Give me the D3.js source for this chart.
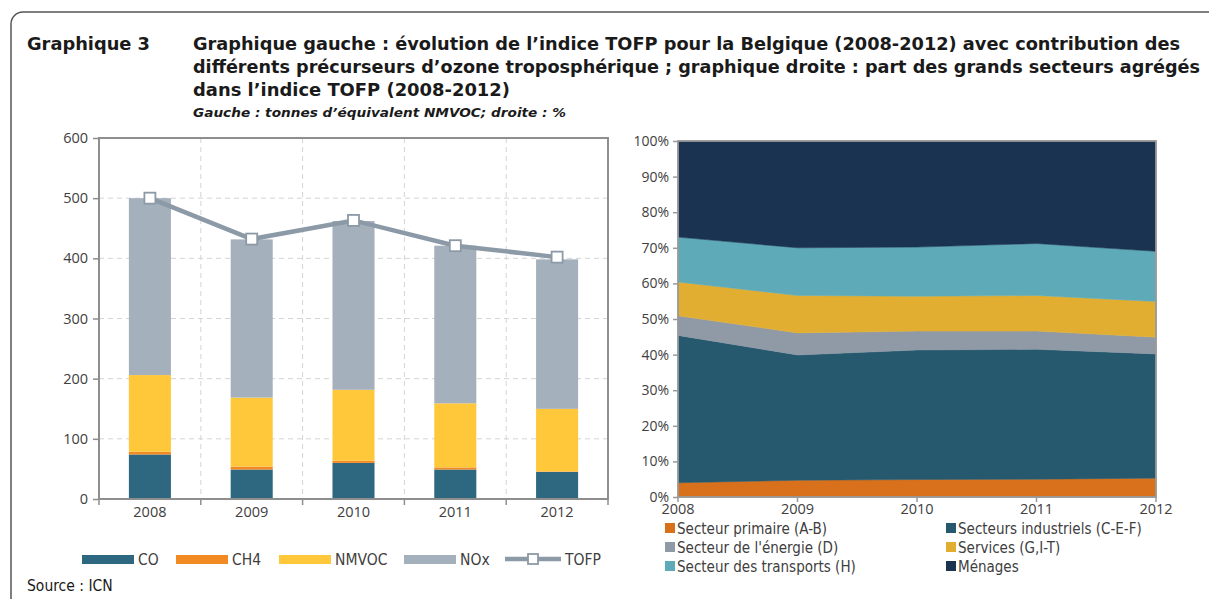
<!DOCTYPE html>
<html><head><meta charset="utf-8">
<script src="https://cdn.jsdelivr.net/npm/d3@7"></script>
<style>
html,body{margin:0;padding:0;background:#fff;}
svg{display:block;}
</style></head>
<body>
<svg id="c" width="1209" height="599"></svg>
<script>
// ---------- DATA ----------
const years = ["2008","2009","2010","2011","2012"];
// left chart: tonnes d'équivalent NMVOC
const co    = [74, 49, 60, 49, 45];
const ch4   = [4.5, 5, 3.5, 3.5, 0.8];
const nmvoc = [127.5, 114.5, 118, 106.5, 104];
const nox   = [294, 263, 280.5, 262, 248.5];
const tofp  = [500, 432, 463, 421, 402];
const leftTicks = [0,100,200,300,400,500,600];
const leftSeriesNames = ["CO","CH4","NMVOC","NOx"];
// right chart: % shares
const primaire    = [4.0, 4.7, 4.9, 5.0, 5.3];
const industriels = [41.4, 35.2, 36.4, 36.5, 34.9];
const energie     = [5.5, 6.2, 5.3, 5.1, 4.7];
const services    = [9.5, 10.5, 9.8, 10.0, 10.0];
const transports  = [12.6, 13.4, 13.8, 14.6, 14.1];
const menages     = [27.0, 30.0, 29.8, 28.8, 31.0];
const rightTicks = [0,10,20,30,40,50,60,70,80,90,100];
const rightSeriesNames = ["Secteur primaire (A-B)","Secteurs industriels (C-E-F)","Secteur de l'énergie (D)","Services (G,I-T)","Secteur des transports (H)","Ménages"];

// ---------- STYLE ----------
const leftColors = ["#2d6880","#f28a24","#ffc73a","#a5b0bd"];
const tofpColor = "#8c99a6";
const rightColors = ["#d9711c","#27596e","#8f9aa6","#e2ae32","#5eaab8","#1a3350"];
const titleFont = "'DejaVu Sans Condensed','DejaVu Sans',sans-serif";
const axisFont = "'Open Sans','Noto Sans',sans-serif";
const txtCol = "#404040";

const svg = d3.select("#c");

// outer frame
svg.append("rect").attr("x",11).attr("y",12).attr("width",1260).attr("height",620)
  .attr("rx",12).attr("fill","none").attr("stroke","#555").attr("stroke-width",1.5);

// titles
function tline(txt,x,y,size,w,style){
  const t = svg.append("text").attr("x",x).attr("y",y).text(txt)
    .attr("font-family",titleFont).attr("font-size",size).attr("font-weight","bold")
    .attr("fill","#1a1a1a");
  if(style) t.attr("font-style",style);
  if(w) t.attr("textLength",w).attr("lengthAdjust","spacingAndGlyphs");
  return t;
}
tline("Graphique 3",27,50,18,123);
tline("Graphique gauche : évolution de l’indice TOFP pour la Belgique (2008-2012) avec contribution des",193,50,18,987);
tline("différents précurseurs d’ozone troposphérique ; graphique droite : part des grands secteurs agrégés",193,73,18,1007);
tline("dans l’indice TOFP (2008-2012)",193,96,18,317);
tline("Gauche : tonnes d’équivalent  NMVOC; droite : %",193,117,13,373,"italic");

// ---------- LEFT CHART ----------
const L = {x0:99, x1:608, y0:138, y1:499};
const xL = d3.scaleBand().domain(years).range([L.x0,L.x1]).paddingInner(0.587).paddingOuter(0.2935);
const yL = d3.scaleLinear().domain([0,600]).range([L.y1,L.y0]);
const gL = svg.append("g");

// gridlines
gL.selectAll(".hg").data(leftTicks.filter(d=>d>0 && d<600)).enter().append("line")
  .attr("x1",L.x0).attr("x2",L.x1).attr("y1",d=>yL(d)).attr("y2",d=>yL(d))
  .attr("stroke","#d4d4d4").attr("stroke-dasharray","5,4").attr("stroke-width",1);
const step = xL.step();
const bounds = d3.range(0,years.length+1).map(i=>L.x0 + i*step);
gL.selectAll(".vg").data(bounds.slice(1,-1)).enter().append("line")
  .attr("x1",d=>d).attr("x2",d=>d).attr("y1",L.y0).attr("y2",L.y1)
  .attr("stroke","#d4d4d4").attr("stroke-dasharray","5,4").attr("stroke-width",1);

// stacked bars
const leftRows = years.map((y,i)=>({year:y, CO:co[i], CH4:ch4[i], NMVOC:nmvoc[i], NOx:nox[i]}));
const stackL = d3.stack().keys(leftSeriesNames)(leftRows);
stackL.forEach((s,k)=>{
  gL.append("g").selectAll("rect").data(s).enter().append("rect")
    .attr("x",d=>xL(d.data.year)).attr("width",xL.bandwidth())
    .attr("y",d=>yL(d[1])).attr("height",d=>yL(d[0])-yL(d[1]))
    .attr("fill",leftColors[k]);
});

// frame
gL.append("rect").attr("x",L.x0).attr("y",L.y0).attr("width",L.x1-L.x0).attr("height",L.y1-L.y0)
  .attr("fill","none").attr("stroke","#8e8e8e").attr("stroke-width",2);

// y axis
const axYL = d3.axisLeft(yL).tickValues(leftTicks).tickSize(6).tickPadding(5);
const gyl = gL.append("g").attr("transform",`translate(${L.x0},0)`).call(axYL);
gyl.select(".domain").remove();
gyl.selectAll("line").attr("stroke","#8e8e8e").attr("stroke-width",1.5);
gyl.selectAll("text").attr("font-family",axisFont).attr("font-size",14.5).attr("fill",txtCol);

// x axis labels + ticks
gL.selectAll(".xt").data(bounds).enter().append("line")
  .attr("x1",d=>d).attr("x2",d=>d).attr("y1",L.y1).attr("y2",L.y1+6)
  .attr("stroke","#8e8e8e").attr("stroke-width",1.5);
gL.selectAll(".xl").data(years).enter().append("text")
  .attr("x",d=>xL(d)+xL.bandwidth()/2).attr("y",L.y1+18).attr("text-anchor","middle")
  .attr("font-family",axisFont).attr("font-size",14.5).attr("fill",txtCol).text(d=>d);

// TOFP line
const lineL = d3.line().x((d,i)=>xL(years[i])+xL.bandwidth()/2).y(d=>yL(d));
gL.append("path").datum(tofp).attr("d",lineL).attr("fill","none")
  .attr("stroke",tofpColor).attr("stroke-width",4.5);
gL.selectAll(".mk").data(tofp).enter().append("rect")
  .attr("x",(d,i)=>xL(years[i])+xL.bandwidth()/2-5.5).attr("y",d=>yL(d)-5.5)
  .attr("width",11).attr("height",11).attr("fill","#fff")
  .attr("stroke",tofpColor).attr("stroke-width",1.8);

// left legend
const legL = [
  {name:"CO", x:82, c:leftColors[0]},
  {name:"CH4", x:176, c:leftColors[1]},
  {name:"NMVOC", x:279, c:leftColors[2]},
  {name:"NOx", x:404, c:leftColors[3]}
];
const lgy = 559;
const legFont = 15.5;
legL.forEach(l=>{
  svg.append("rect").attr("x",l.x).attr("y",lgy-4).attr("width",52).attr("height",9).attr("fill",l.c);
  svg.append("text").attr("x",l.x+56).attr("y",lgy+5.5).text(l.name)
    .attr("font-family",titleFont).attr("font-size",legFont).attr("fill",txtCol);
});
svg.append("line").attr("x1",505).attr("x2",561).attr("y1",lgy).attr("y2",lgy)
  .attr("stroke",tofpColor).attr("stroke-width",4.5);
svg.append("rect").attr("x",528).attr("y",lgy-5).attr("width",10).attr("height",10)
  .attr("fill","#fff").attr("stroke",tofpColor).attr("stroke-width",1.8);
svg.append("text").attr("x",565).attr("y",lgy+5.5).text("TOFP")
  .attr("font-family",titleFont).attr("font-size",legFont).attr("fill",txtCol);

svg.append("text").attr("x",27).attr("y",591).text("Source : ICN")
  .attr("font-family",titleFont).attr("font-size",legFont).attr("fill","#1a1a1a");

// ---------- RIGHT CHART ----------
const R = {x0:678, x1:1156, y0:141, y1:497};
const xR = d3.scalePoint().domain(years).range([R.x0,R.x1]);
const yR = d3.scaleLinear().domain([0,100]).range([R.y1,R.y0]);
const gR = svg.append("g");
const rkeys = ["p","i","e","s","t","m"];
const rightRows = years.map((y,i)=>({year:y, p:primaire[i], i:industriels[i], e:energie[i], s:services[i], t:transports[i], m:menages[i]}));
const stackR = d3.stack().keys(rkeys)(rightRows);
const areaR = d3.area().x(d=>xR(d.data.year)).y0(d=>yR(d[0])).y1(d=>yR(d[1]));
stackR.forEach((s,k)=>{
  gR.append("path").datum(s).attr("d",areaR).attr("fill",rightColors[k])
    .attr("stroke",rightColors[k]).attr("stroke-width",0.5);
});
gR.append("rect").attr("x",R.x0).attr("y",R.y0).attr("width",R.x1-R.x0).attr("height",R.y1-R.y0)
  .attr("fill","none").attr("stroke","#999").attr("stroke-width",1.8);

const axYR = d3.axisLeft(yR).tickValues(rightTicks).tickFormat(d=>d+"%").tickSize(5).tickPadding(4);
const gyr = gR.append("g").attr("transform",`translate(${R.x0},0)`).call(axYR);
gyr.select(".domain").remove();
gyr.selectAll("line").attr("stroke","#999").attr("stroke-width",1.5);
gyr.selectAll("text").attr("font-family",axisFont).attr("font-size",14).attr("fill",txtCol);

gR.selectAll(".xt").data(years).enter().append("line")
  .attr("x1",d=>xR(d)).attr("x2",d=>xR(d)).attr("y1",R.y1).attr("y2",R.y1+5)
  .attr("stroke","#999").attr("stroke-width",1.5);
gR.selectAll(".xl").data(years).enter().append("text")
  .attr("x",d=>xR(d)).attr("y",R.y1+17).attr("text-anchor","middle")
  .attr("font-family",axisFont).attr("font-size",14.5).attr("fill",txtCol).text(d=>d);

// right legend
const legR = rightSeriesNames.map((n,k)=>({n, c:rightColors[k], col:k%2, row:Math.floor(k/2)}));
legR.forEach(l=>{
  const x = l.col===0 ? 665 : 946;
  const y = 528 + l.row*19;
  svg.append("rect").attr("x",x).attr("y",y-5).attr("width",10).attr("height",10).attr("fill",l.c);
  svg.append("text").attr("x",x+12).attr("y",y+5.5).text(l.n)
    .attr("font-family",titleFont).attr("font-size",15).attr("fill",txtCol);
});
</script>
</body></html>
